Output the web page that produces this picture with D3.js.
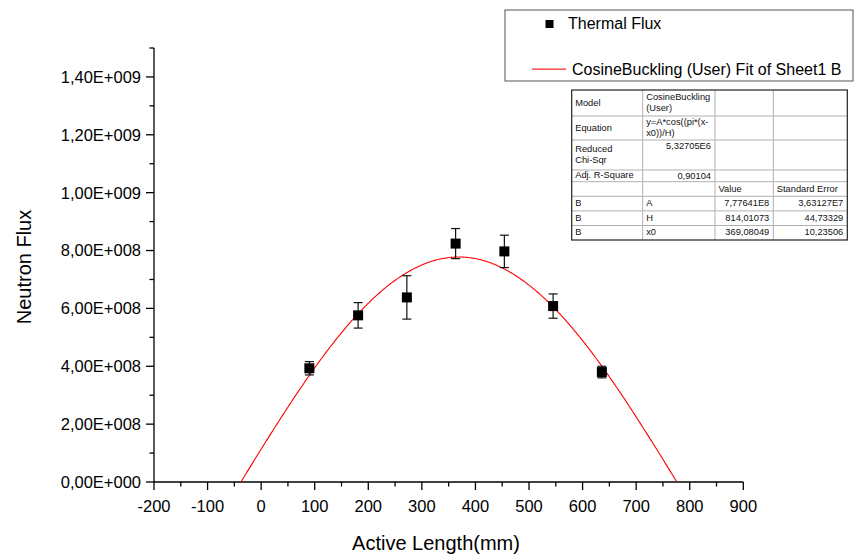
<!DOCTYPE html>
<html><head><meta charset="utf-8">
<script src="https://cdn.jsdelivr.net/npm/d3@7/dist/d3.min.js"></script>
<style>
html,body{margin:0;padding:0;background:#fff;}
svg{display:block;font-family:"Liberation Sans",Arial,sans-serif;}
</style></head>
<body>
<svg id="chart" width="858" height="557"></svg>
<script>
// ---- data ----
const activeLength = [90, 181, 272, 363, 454, 545, 636];
const thermalFlux = [3.93e8, 5.76e8, 6.38e8, 8.24e8, 7.97e8, 6.08e8, 3.80e8];
const fluxError = [0.23e8, 0.44e8, 0.75e8, 0.52e8, 0.56e8, 0.42e8, 0.20e8];
// fit parameters (CosineBuckling: y = A*cos(pi*(x-x0)/H))
const fitA = 7.77641e8, fitH = 814.01073, fitX0 = 369.08049;
const xTicks = [-200,-100,0,100,200,300,400,500,600,700,800,900];
const xMinor = [-150,-50,50,150,250,350,450,550,650,750,850];
const yTicks = [0,2e8,4e8,6e8,8e8,10e8,12e8,14e8];
const yTickLabels = ["0,00E+000","2,00E+008","4,00E+008","6,00E+008","8,00E+008","1,00E+009","1,20E+009","1,40E+009"];
const yMinor = [1e8,3e8,5e8,7e8,9e8,11e8,13e8,15e8];
const tableRows = [
  ["Model", "CosineBuckling\n(User)", "", ""],
  ["Equation", "y=A*cos((pi*(x-\nx0))/H)", "", ""],
  ["Reduced\nChi-Sqr", "5,32705E6", "", ""],
  ["Adj. R-Square", "0,90104", "", ""],
  ["", "", "Value", "Standard Error"],
  ["B", "A", "7,77641E8", "3,63127E7"],
  ["B", "H", "814,01073", "44,73329"],
  ["B", "x0", "369,08049", "10,23506"]
];
const legendLabels = ["Thermal Flux", "CosineBuckling (User) Fit of Sheet1 B"];

// ---- layout ----
const svg = d3.select("#chart");
const x = d3.scaleLinear().domain([-200, 900]).range([154, 743.3]);
const y = d3.scaleLinear().domain([0, 1.5e9]).range([482, 48]);

// axes
const gx = svg.append("g").attr("transform", "translate(0,482)");
gx.append("line").attr("x1", x(-200)).attr("x2", x(900)).attr("stroke", "#000").attr("stroke-width", 1.3);
gx.selectAll(".mj").data(xTicks).join("line").attr("x1", d => x(d)).attr("x2", d => x(d)).attr("y1", 0).attr("y2", 8).attr("stroke", "#000").attr("stroke-width", 1.3);
gx.selectAll(".mn").data(xMinor).join("line").attr("x1", d => x(d)).attr("x2", d => x(d)).attr("y1", 0).attr("y2", 4.5).attr("stroke", "#000").attr("stroke-width", 1.3);
gx.selectAll("text").data(xTicks).join("text").attr("x", d => x(d)).attr("y", 30).attr("text-anchor", "middle").attr("font-size", 16.5).text(d => d);

const gy = svg.append("g").attr("transform", "translate(154,0)");
gy.append("line").attr("y1", y(0)).attr("y2", y(1.5e9)).attr("stroke", "#000").attr("stroke-width", 1.3);
gy.selectAll(".mj").data(yTicks).join("line").attr("y1", d => y(d)).attr("y2", d => y(d)).attr("x1", 0).attr("x2", -8).attr("stroke", "#000").attr("stroke-width", 1.3);
gy.selectAll(".mn").data(yMinor).join("line").attr("y1", d => y(d)).attr("y2", d => y(d)).attr("x1", 0).attr("x2", -4.5).attr("stroke", "#000").attr("stroke-width", 1.3);
gy.selectAll("text").data(yTicks).join("text").attr("x", -13).attr("y", d => y(d)).attr("dy", "0.36em").attr("text-anchor", "end").attr("font-size", 16.5).text((d, i) => yTickLabels[i]);

// axis titles
svg.append("text").attr("x", 436).attr("y", 550).attr("text-anchor", "middle").attr("font-size", 20).text("Active Length(mm)");
svg.append("text").attr("transform", "translate(31,267) rotate(-90)").attr("text-anchor", "middle").attr("font-size", 20).text("Neutron Flux");

// fit curve
const lo = fitX0 - fitH / 2, hi = fitX0 + fitH / 2;
const curveX = d3.range(0, 401).map(i => lo + (hi - lo) * i / 400);
const fitFn = xv => fitA * Math.cos(Math.PI * (xv - fitX0) / fitH);
svg.append("path").datum(curveX)
  .attr("d", d3.line().x(d => x(d)).y(d => y(Math.max(0, fitFn(d)))))
  .attr("fill", "none").attr("stroke", "#ff0000").attr("stroke-width", 1.1);

// error bars
const pts = activeLength.map((v, i) => ({x: v, y: thermalFlux[i], e: fluxError[i]}));
const eb = svg.append("g").attr("stroke", "#111").attr("stroke-width", 1.2);
eb.selectAll(".v").data(pts).join("line").attr("x1", d => x(d.x)).attr("x2", d => x(d.x)).attr("y1", d => y(d.y - d.e)).attr("y2", d => y(d.y + d.e));
eb.selectAll(".t").data(pts).join("line").attr("x1", d => x(d.x) - 4.5).attr("x2", d => x(d.x) + 4.5).attr("y1", d => y(d.y + d.e)).attr("y2", d => y(d.y + d.e));
eb.selectAll(".b").data(pts).join("line").attr("x1", d => x(d.x) - 4.5).attr("x2", d => x(d.x) + 4.5).attr("y1", d => y(d.y - d.e)).attr("y2", d => y(d.y - d.e));
// markers
svg.append("g").selectAll("rect").data(pts).join("rect")
  .attr("x", d => x(d.x) - 5).attr("y", d => y(d.y) - 5).attr("width", 10).attr("height", 10).attr("fill", "#000");

// legend
const lg = svg.append("g");
lg.append("rect").attr("x", 505).attr("y", 10).attr("width", 348).attr("height", 71).attr("fill", "#fff").attr("stroke", "#555").attr("stroke-width", 1);
lg.append("rect").attr("x", 545.5).attr("y", 20).attr("width", 8).attr("height", 8).attr("fill", "#000");
lg.append("text").attr("x", 568).attr("y", 29).attr("font-size", 16).text(legendLabels[0]);
lg.append("rect").attr("x", 532).attr("y", 68.5).attr("width", 34).attr("height", 1.3).attr("fill", "#ff3030");
lg.append("text").attr("x", 572).attr("y", 75).attr("font-size", 16).text(legendLabels[1]);

// table
const colX = [571.7, 642.7, 715, 773.3, 847.3];
const rowY = [90, 116, 140, 170, 181.7, 196.3, 210.9, 225.5, 240];
const tg = svg.append("g");
tg.append("rect").attr("x", colX[0]).attr("y", rowY[0]).attr("width", colX[4] - colX[0]).attr("height", rowY[8] - rowY[0]).attr("fill", "#fff");
colX.slice(1, 4).forEach(cx => tg.append("line").attr("x1", cx).attr("x2", cx).attr("y1", rowY[0]).attr("y2", rowY[8]).attr("stroke", "#b0b0b0"));
rowY.slice(1, 8).forEach(ry => tg.append("line").attr("x1", colX[0]).attr("x2", colX[4]).attr("y1", ry).attr("y2", ry).attr("stroke", "#b0b0b0"));
tg.append("rect").attr("x", colX[0]).attr("y", rowY[0]).attr("width", colX[4] - colX[0]).attr("height", rowY[8] - rowY[0]).attr("fill", "none").attr("stroke", "#222").attr("stroke-width", 1.2);
const fs = 9.3, lh = 10.7;
tableRows.forEach((row, r) => {
  row.forEach((cell, c) => {
    if (!cell) return;
    const lines = cell.split("\n");
    const numeric = /^[0-9]/.test(cell) && !(c === 1 && r >= 5);
    const rightAlign = numeric;
    const tx = rightAlign ? colX[c + 1] - 4 : colX[c] + 3.5;
    let top;
    const rh = rowY[r + 1] - rowY[r];
    if (rightAlign && r < 4) top = rowY[r] + 2 + fs * 0.8;
    else top = rowY[r] + (rh - lines.length * lh) / 2 + fs * 0.85;
    lines.forEach((ln, k) => {
      tg.append("text").attr("x", tx).attr("y", top + k * lh).attr("font-size", fs)
        .attr("text-anchor", rightAlign ? "end" : "start").attr("fill", "#111").text(ln);
    });
  });
});
</script>
</body></html>
